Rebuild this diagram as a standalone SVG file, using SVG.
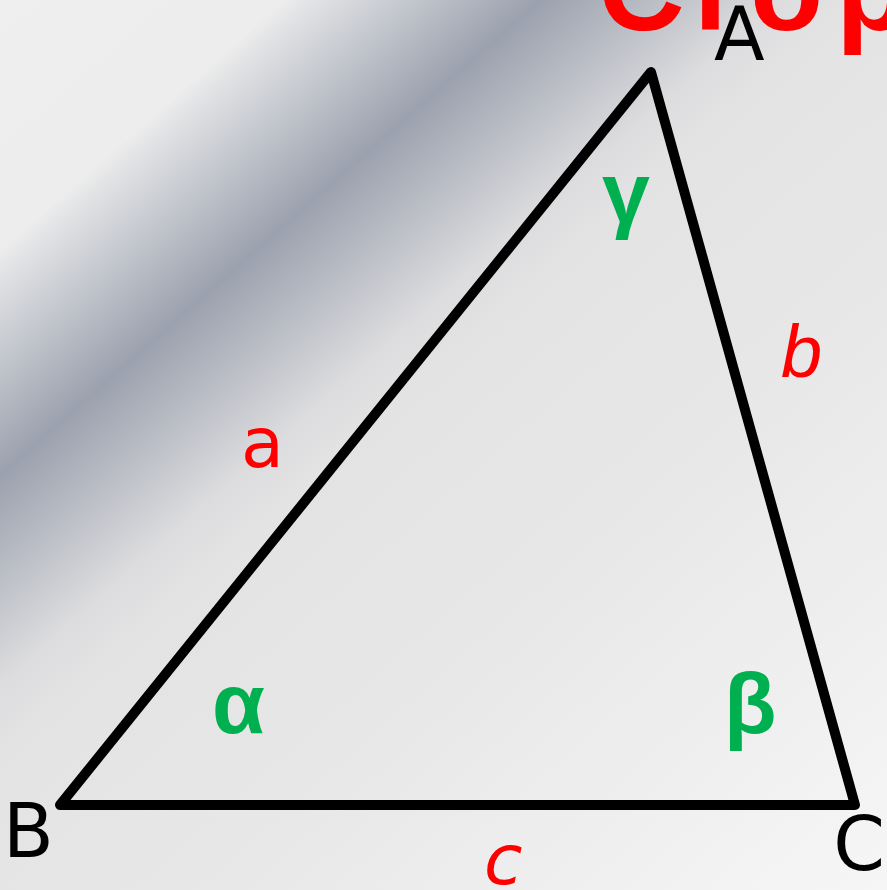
<svg xmlns="http://www.w3.org/2000/svg" width="887" height="890" viewBox="0 0 887 890">
  <defs>
    <linearGradient id="bg" gradientUnits="userSpaceOnUse" x1="0" y1="0" x2="827" y2="940">
      <stop offset="0" stop-color="#EFEFEF"/>
      <stop offset="0.15" stop-color="#EDEDED"/>
      <stop offset="0.165" stop-color="#E2E3E5"/>
      <stop offset="0.285" stop-color="#9BA1AE"/>
      <stop offset="0.41" stop-color="#DCDCDE"/>
      <stop offset="0.45" stop-color="#E3E3E4"/>
      <stop offset="0.65" stop-color="#E8E8E8"/>
      <stop offset="1" stop-color="#F6F6F6"/>
    </linearGradient>
    <style>
      .vtx { font-family: "DejaVu Sans", "Liberation Sans", sans-serif; font-size: 74px; fill: #000000; }
      .side { font-family: "DejaVu Sans", "Liberation Sans", sans-serif; font-size: 70px; fill: #FF0000; }
      .ang { font-family: "Liberation Sans", Arial, sans-serif; font-weight: bold; font-size: 86px; fill: #00B050; }
      .title { font-family: "Liberation Sans", Arial, sans-serif; font-weight: bold; font-size: 120px; fill: #FF0000; }
      .edge { fill: none; stroke: #000000; stroke-width: 10; stroke-linejoin: round; stroke-linecap: round; }
    </style>
  </defs>
  <rect x="0" y="0" width="887" height="890" fill="url(#bg)"/>

  <g id="title">
    <text class="title" x="598 681 750 836" y="30">Стор</text>
  </g>

  <g id="connectors">
    <polygon id="triangle" class="edge" points="651,72 60,805 855,805"/>
  </g>

  <g id="vertex-A"><text class="vtx" x="714" y="60">A</text></g>
  <g id="vertex-B"><text class="vtx" x="3" y="857">B</text></g>
  <g id="vertex-C"><text class="vtx" x="885" y="870" text-anchor="end">C</text></g>

  <g id="side-a"><text class="side" x="241" y="467">a</text></g>
  <g id="side-b"><text x="781" y="377" font-family="Liberation Sans, Arial, sans-serif" font-style="italic" font-size="74" fill="#FF0000">b</text></g>
  <g id="side-c"><text class="side" x="484" y="884" font-style="italic">c</text></g>

  <g id="angle-alpha"><text class="ang" x="212" y="733">α</text></g>
  <g id="angle-beta"><text class="ang" x="724" y="733">β</text></g>
  <g id="angle-gamma"><text class="ang" x="602" y="222">γ</text></g>
</svg>
